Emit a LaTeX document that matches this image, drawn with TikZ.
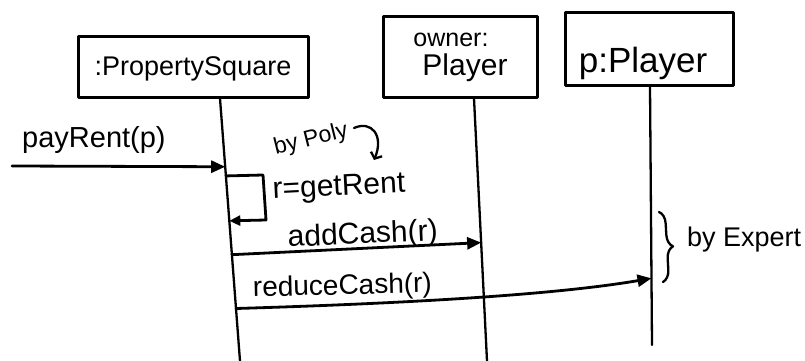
\documentclass[tikz,border=0pt]{standalone}
\usepackage{fontspec}
\setmainfont{Liberation Sans}
\usetikzlibrary{arrows.meta,calc,decorations.pathreplacing}
\begin{document}
\begin{tikzpicture}[x=1pt,y=-1pt,line cap=round,line join=round,
  objbox/.style 2 args={draw,line width=3pt,minimum width=#1,minimum height=#2,inner sep=0pt},
  lbl/.style={inner sep=0pt,font=\fontsize{#1}{#1}\selectfont},
  life/.style={line width=2.3pt},
  msg/.style={line width=2.8pt,-{Triangle[length=14pt,width=12pt]}},
  selfmsg/.style={line width=2.8pt,-{Triangle[length=11pt,width=10pt]}},
  note/.style={line width=2.3pt,-{Straight Barb[length=5pt,width=12pt]}}]
\useasboundingbox (0,0) rectangle (805,361);

% object boxes
\node[objbox={230pt}{60pt}] (box1) at (193,67) {};
\node[lbl=27,anchor=base] (t1) at (193,75) {:PropertySquare};
\node[objbox={154pt}{80pt}] (box2) at (460,57) {};
\node[lbl=25,anchor=base] (t2a) at (451,47) {owner:};
\node[lbl=30,anchor=base] (t2b) at (465,75) {Player};
\node[objbox={168pt}{72pt}] (box3) at (649,49) {};
\node[lbl=35,anchor=base] (t3) at (643,72) {p:Player};

% lifelines
\coordinate (l1t) at ($(box1.south)+(27,0)$);
\coordinate (l1b) at (240,361);
\coordinate (l2t) at ($(box2.south)+(14,0)$);
\coordinate (l2b) at (487,361);
\coordinate (l3t) at ($(box3.south)+(1,0)$);
\coordinate (l3b) at (652,345);
\draw[life] (l1t) -- (l1b);
\draw[life] (l2t) -- (l2b);
\draw[life] (l3t) -- (l3b);

% payRent
\coordinate (ps) at (12,166);
\coordinate (pe) at ($(l1t)!0.26!(l1b)$);
\draw[msg] (ps) -- (pe);
\node[lbl=29,anchor=base west] (m1) at (22,147) {payRent(p)};

% self message getRent
\coordinate (ss) at ($(l1t)!0.295!(l1b)$);
\coordinate (s1) at (263,175);
\coordinate (s2) at (266,220);
\coordinate (se) at ($(l1t)!0.466!(l1b)$);
\draw[selfmsg] (ss) -- (s1) -- (s2) -- (se);
\node[lbl=30,anchor=base west,rotate=3] (m2) at (273,199) {r=getRent};

% by Poly note
\node[lbl=23,rotate=14] (n1) at (311,140) {by Poly};
\coordinate (na) at (354,128);
\coordinate (nb) at (374,160);
\draw[note] (na) .. controls (372,120) and (384,136) .. (nb);

% addCash
\coordinate (as) at ($(l1t)!0.595!(l1b)$);
\coordinate (ae) at ($(l2t)!0.549!(l2b)$);
\draw[msg] (as) -- (ae);
\node[lbl=30,anchor=base west,rotate=2.6] (m3) at (288,247) {addCash(r)};

% reduceCash
\coordinate (rs) at ($(l1t)!0.8!(l1b)$);
\coordinate (re) at ($(l3t)!0.742!(l3b)$);
\draw[msg] (rs) .. controls (420,303) and (560,294) .. (re);
\node[lbl=28,anchor=base west,rotate=1.5] (m4) at (253,297) {reduceCash(r)};

% by Expert brace
\coordinate (b1) at (659,212);
\coordinate (b2) at (663,282);
\draw[line width=2.3pt,decorate,decoration={brace,amplitude=12pt}] (b1) -- (b2);
\node[lbl=27,anchor=base west] (n2) at (687,246) {by Expert};
\end{tikzpicture}
\end{document}
